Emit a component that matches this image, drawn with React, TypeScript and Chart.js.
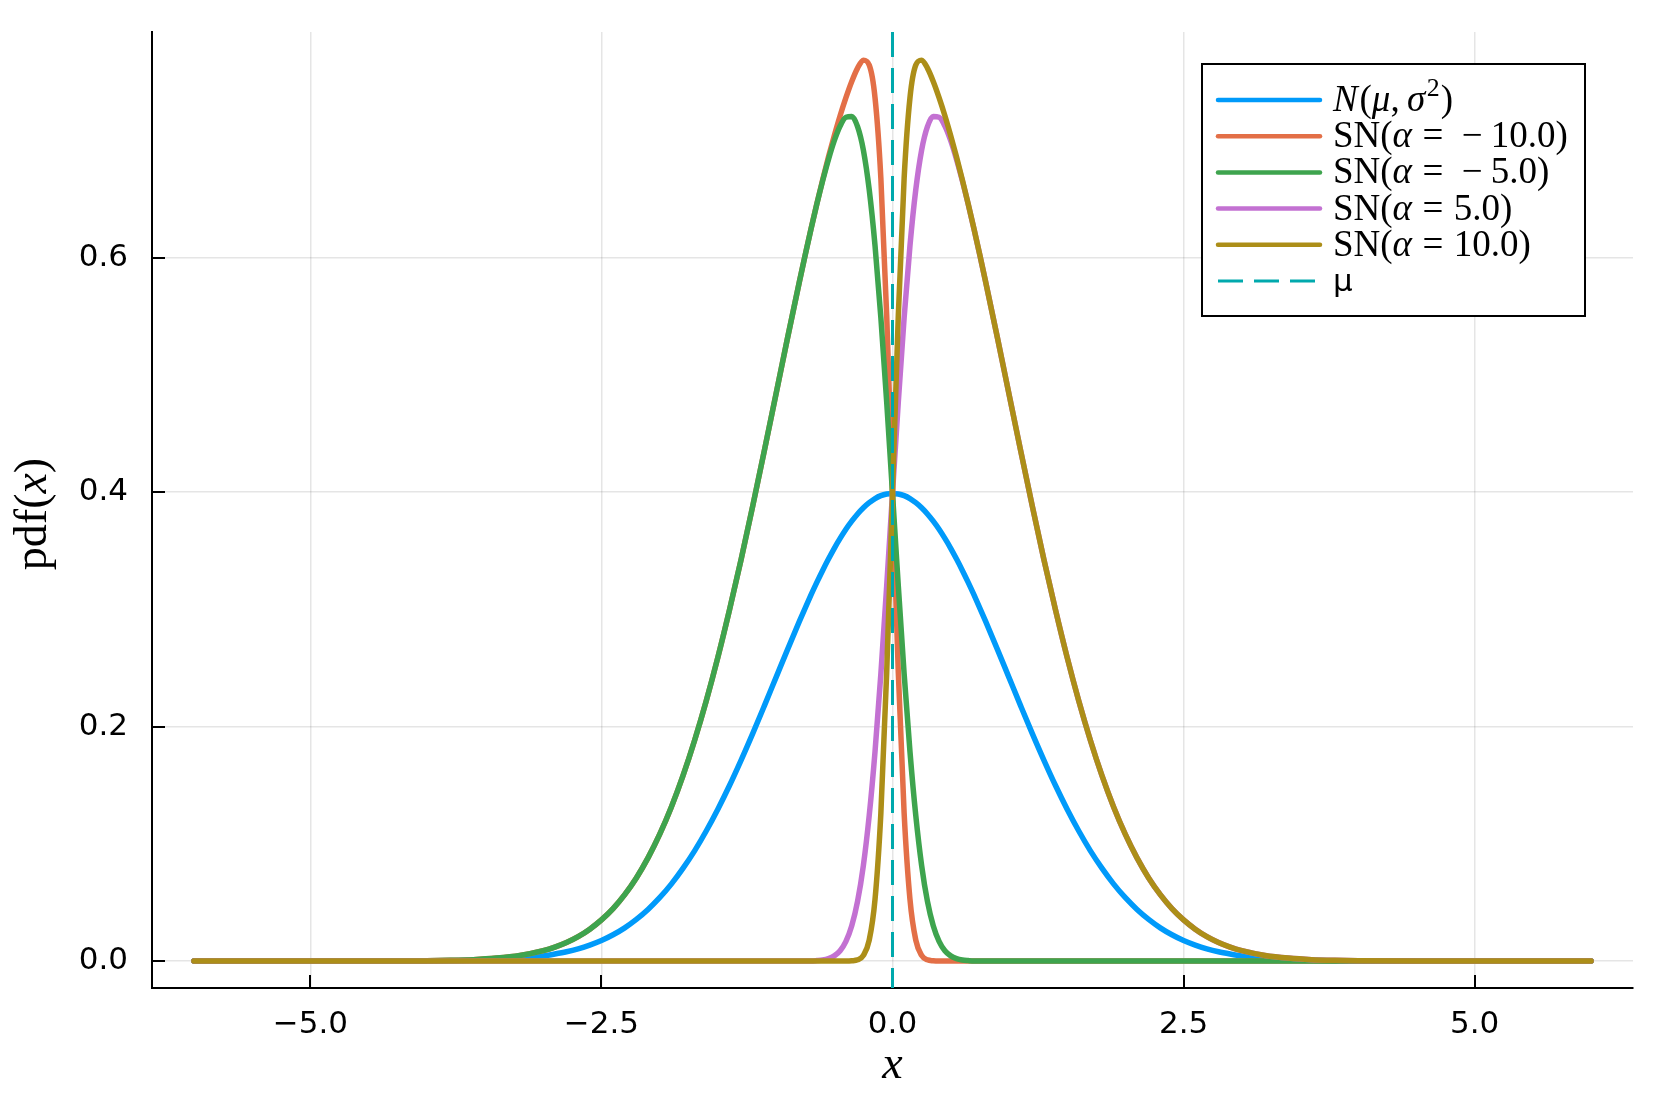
import React, { useEffect, useRef } from "react";
import { Chart, registerables } from "chart.js";

Chart.register(...registerables);

// ---------------- data ----------------
const xValues = [
  -6, -5, -4.5, -4, -3.8, -3.6, -3.4, -3.2,
  -3.0, -2.9, -2.8, -2.7, -2.6, -2.5, -2.4, -2.3, -2.2, -2.1, -2.0, -1.9, -1.8, -1.7, -1.6, -1.5, -1.4, -1.3, -1.2, -1.1, -1.0, -0.9,
  -0.8, -0.75, -0.7, -0.65, -0.6, -0.55, -0.5, -0.45, -0.4, -0.35, -0.3, -0.25, -0.2, -0.15, -0.1, -0.05,
  0,
  0.05, 0.1, 0.15, 0.2, 0.25, 0.3, 0.35, 0.4, 0.45, 0.5, 0.55, 0.6, 0.65, 0.7, 0.75, 0.8,
  0.9, 1.0, 1.1, 1.2, 1.3, 1.4, 1.5, 1.6, 1.7, 1.8, 1.9, 2.0, 2.1, 2.2, 2.3, 2.4, 2.5, 2.6, 2.7, 2.8, 2.9, 3.0,
  3.2, 3.4, 3.6, 3.8, 4, 4.5, 5, 6,
];

const normalPdf = [
  0, 0, 0.0000, 0.0001, 0.0003, 0.0006, 0.0012, 0.0024,
  0.0044, 0.0060, 0.0079, 0.0104, 0.0136, 0.0175, 0.0224, 0.0283, 0.0355, 0.0440, 0.0540, 0.0656, 0.0790, 0.0940, 0.1109, 0.1295, 0.1497, 0.1714, 0.1942, 0.2179, 0.2420, 0.2661,
  0.2897, 0.3011, 0.3123, 0.3230, 0.3332, 0.3429, 0.3521, 0.3605, 0.3683, 0.3752, 0.3814, 0.3867, 0.3910, 0.3945, 0.3970, 0.3984,
  0.3989,
  0.3984, 0.3970, 0.3945, 0.3910, 0.3867, 0.3814, 0.3752, 0.3683, 0.3605, 0.3521, 0.3429, 0.3332, 0.3230, 0.3123, 0.3011, 0.2897,
  0.2661, 0.2420, 0.2179, 0.1942, 0.1714, 0.1497, 0.1295, 0.1109, 0.0940, 0.0790, 0.0656, 0.0540, 0.0440, 0.0355, 0.0283, 0.0224, 0.0175, 0.0136, 0.0104, 0.0079, 0.0060, 0.0044,
  0.0024, 0.0012, 0.0006, 0.0003, 0.0001, 0.0000, 0, 0,
];

const snAlphaMinus10 = [
  0, 0, 0.0000, 0.0003, 0.0006, 0.0012, 0.0025, 0.0048,
  0.0089, 0.0119, 0.0158, 0.0208, 0.0272, 0.0351, 0.0448, 0.0567, 0.0709, 0.0880, 0.1080, 0.1312, 0.1579, 0.1881, 0.2218, 0.2590, 0.2995, 0.3427, 0.3884, 0.4357, 0.4839, 0.5322,
  0.5794, 0.6023, 0.6245, 0.6459, 0.6664, 0.6859, 0.7041, 0.7211, 0.7365, 0.7503, 0.7617, 0.7685, 0.7643, 0.7363, 0.6679, 0.5510,
  0.3989,
  0.2458, 0.1260, 0.0527, 0.0178, 0.0048, 0.0010, 0.0002, 0, 0, 0, 0, 0, 0, 0, 0, 0,
  0, 0, 0, 0, 0, 0, 0, 0, 0, 0, 0, 0, 0, 0, 0, 0, 0, 0, 0, 0, 0, 0,
  0, 0, 0, 0, 0, 0, 0, 0,
];

const snAlphaMinus5 = [
  0, 0, 0.0000, 0.0003, 0.0006, 0.0012, 0.0025, 0.0048,
  0.0089, 0.0119, 0.0158, 0.0208, 0.0272, 0.0351, 0.0448, 0.0567, 0.0709, 0.0880, 0.1080, 0.1312, 0.1579, 0.1881, 0.2218, 0.2590, 0.2995, 0.3427, 0.3884, 0.4357, 0.4839, 0.5322,
  0.5794, 0.6022, 0.6244, 0.6456, 0.6655, 0.6838, 0.6998, 0.7123, 0.7198, 0.7204, 0.7118, 0.6917, 0.6580, 0.6102, 0.5490, 0.4771,
  0.3989,
  0.3198, 0.2449, 0.1788, 0.1241, 0.0817, 0.0510, 0.0301, 0.0168, 0.0088, 0.0044, 0.0021, 0.0009, 0.0004, 0.0001, 0.0001, 0,
  0, 0, 0, 0, 0, 0, 0, 0, 0, 0, 0, 0, 0, 0, 0, 0, 0, 0, 0, 0, 0, 0,
  0, 0, 0, 0, 0, 0, 0, 0,
];

const snAlpha5 = [
  0, 0, 0, 0, 0, 0, 0, 0,
  0, 0, 0, 0, 0, 0, 0, 0, 0, 0, 0, 0, 0, 0, 0, 0, 0, 0, 0, 0, 0, 0,
  0, 0.0001, 0.0001, 0.0004, 0.0009, 0.0021, 0.0044, 0.0088, 0.0168, 0.0301, 0.0510, 0.0817, 0.1241, 0.1788, 0.2449, 0.3198,
  0.3989,
  0.4771, 0.5490, 0.6102, 0.6580, 0.6917, 0.7118, 0.7204, 0.7198, 0.7123, 0.6998, 0.6838, 0.6655, 0.6456, 0.6244, 0.6022, 0.5794,
  0.5322, 0.4839, 0.4357, 0.3884, 0.3427, 0.2995, 0.2590, 0.2218, 0.1881, 0.1579, 0.1312, 0.1080, 0.0880, 0.0709, 0.0567, 0.0448, 0.0351, 0.0272, 0.0208, 0.0158, 0.0119, 0.0089,
  0.0048, 0.0025, 0.0012, 0.0006, 0.0003, 0.0000, 0, 0,
];

const snAlpha10 = [
  0, 0, 0, 0, 0, 0, 0, 0,
  0, 0, 0, 0, 0, 0, 0, 0, 0, 0, 0, 0, 0, 0, 0, 0, 0, 0, 0, 0, 0, 0,
  0, 0, 0, 0, 0, 0, 0, 0, 0, 0.0002, 0.0010, 0.0048, 0.0178, 0.0527, 0.1260, 0.2458,
  0.3989,
  0.5510, 0.6679, 0.7363, 0.7643, 0.7685, 0.7617, 0.7503, 0.7365, 0.7211, 0.7041, 0.6859, 0.6664, 0.6459, 0.6245, 0.6023, 0.5794,
  0.5322, 0.4839, 0.4357, 0.3884, 0.3427, 0.2995, 0.2590, 0.2218, 0.1881, 0.1579, 0.1312, 0.1080, 0.0880, 0.0709, 0.0567, 0.0448, 0.0351, 0.0272, 0.0208, 0.0158, 0.0119, 0.0089,
  0.0048, 0.0025, 0.0012, 0.0006, 0.0003, 0.0000, 0, 0,
];

const muValue = 0;
const xTickValues = [-5, -2.5, 0, 2.5, 5];
const yTickValues = [0, 0.2, 0.4, 0.6];
const xLimits = [-6.36, 6.36];
const yLimits = [-0.023, 0.7925];

// ---------------- styles ----------------
const COLORS = {
  normal: "#009AFA",
  m10: "#E36F47",
  m5: "#3EA44E",
  p5: "#C371D2",
  p10: "#AC8E18",
  mu: "#00A9AD",
};
const SERIF = '"Liberation Serif", "DejaVu Serif", serif';
const SANS = '"DejaVu Sans", sans-serif';

type Run = { t: string; italic?: boolean; sup?: boolean; gap?: number };

function drawRuns(ctx: CanvasRenderingContext2D, x: number, y: number, runs: Run[], size: number) {
  let cx = x;
  ctx.textAlign = "left";
  ctx.textBaseline = "alphabetic";
  for (const r of runs) {
    cx += (r.gap || 0) * size;
    const fs = r.sup ? size * 0.7 : size;
    ctx.font = `${r.italic ? "italic " : ""}${fs}px ${SERIF}`;
    ctx.fillText(r.t, cx, r.sup ? y - size * 0.4 : y);
    cx += ctx.measureText(r.t).width;
  }
  return cx - x;
}

function measureRuns(ctx: CanvasRenderingContext2D, runs: Run[], size: number) {
  let w = 0;
  for (const r of runs) {
    w += (r.gap || 0) * size;
    const fs = r.sup ? size * 0.7 : size;
    ctx.font = `${r.italic ? "italic " : ""}${fs}px ${SERIF}`;
    w += ctx.measureText(r.t).width;
  }
  return w;
}

const snRuns = (value: string, negative: boolean): Run[] => {
  const runs: Run[] = [{ t: "SN(" }, { t: "α", italic: true }, { t: "=", gap: 0.28 }];
  if (negative) {
    runs.push({ t: "−", gap: 0.5 });
    runs.push({ t: value + ")", gap: 0.22 });
  } else {
    runs.push({ t: value + ")", gap: 0.28 });
  }
  return runs;
};

const legendItems: { color: string; dashed?: boolean; runs?: Run[]; plain?: string }[] = [
  {
    color: COLORS.normal,
    runs: [
      { t: "N", italic: true },
      { t: "(", gap: 0.05 },
      { t: "μ", italic: true },
      { t: "," },
      { t: "σ", italic: true, gap: 0.2 },
      { t: "2", sup: true, gap: 0.04 },
      { t: ")", gap: 0.03 },
    ],
  },
  { color: COLORS.m10, runs: snRuns("10.0", true) },
  { color: COLORS.m5, runs: snRuns("5.0", true) },
  { color: COLORS.p5, runs: snRuns("5.0", false) },
  { color: COLORS.p10, runs: snRuns("10.0", false) },
  { color: COLORS.mu, dashed: true, plain: "μ" },
];

const overlayPlugin = {
  id: "overlay",
  beforeDatasetsDraw(chart: any) {
    const { ctx, chartArea, scales } = chart;
    ctx.save();
    ctx.strokeStyle = "#000";
    ctx.lineWidth = 2;
    const tickLen = 13;
    for (const v of xTickValues) {
      const px = Math.round(scales.x.getPixelForValue(v));
      ctx.beginPath();
      ctx.moveTo(px, chartArea.bottom);
      ctx.lineTo(px, chartArea.bottom - tickLen);
      ctx.stroke();
    }
    for (const v of yTickValues) {
      const py = Math.round(scales.y.getPixelForValue(v));
      ctx.beginPath();
      ctx.moveTo(chartArea.left, py);
      ctx.lineTo(chartArea.left + tickLen, py);
      ctx.stroke();
    }
    ctx.restore();
  },
  afterDraw(chart: any) {
    const { ctx, chartArea } = chart;
    ctx.save();
    ctx.fillStyle = "#000";

    // x axis title
    ctx.font = `italic 46px ${SERIF}`;
    ctx.textAlign = "center";
    ctx.textBaseline = "alphabetic";
    ctx.fillText("x", (chartArea.left + chartArea.right) / 2, 1078);

    // y axis title (rotated)
    const yRuns: Run[] = [{ t: "pdf(" }, { t: "x", italic: true }, { t: ")" }];
    const ySize = 46;
    const yw = measureRuns(ctx, yRuns, ySize);
    ctx.save();
    ctx.translate(46, 514);
    ctx.rotate(-Math.PI / 2);
    drawRuns(ctx, -yw / 2, 0, yRuns, ySize);
    ctx.restore();

    // legend
    const box = { x: 1202, y: 64, w: 383, h: 252 };
    ctx.fillStyle = "#fff";
    ctx.fillRect(box.x, box.y, box.w, box.h);
    ctx.strokeStyle = "#000";
    ctx.lineWidth = 2;
    ctx.strokeRect(box.x, box.y, box.w, box.h);

    const rowY0 = 100;
    const rowStep = 36.2;
    const lineX0 = 1218;
    const lineX1 = 1320;
    const textX = 1333;
    const fs = 37;
    legendItems.forEach((it, i) => {
      const cy = rowY0 + i * rowStep;
      ctx.save();
      ctx.strokeStyle = it.color;
      ctx.lineCap = it.dashed ? "butt" : "round";
      ctx.lineWidth = it.dashed ? 3 : 4.5;
      if (it.dashed) ctx.setLineDash([25, 11]);
      ctx.beginPath();
      ctx.moveTo(lineX0, cy);
      ctx.lineTo(lineX1, cy);
      ctx.stroke();
      ctx.restore();
      ctx.fillStyle = "#000";
      if (it.runs) {
        drawRuns(ctx, textX, cy + 11, it.runs, fs);
      } else if (it.plain) {
        ctx.font = `31px ${SANS}`;
        ctx.textAlign = "left";
        ctx.textBaseline = "alphabetic";
        ctx.fillText(it.plain, textX, cy + 10);
      }
    });
    ctx.restore();
  },
};

const mkSeries = (ys: number[]) => xValues.map((x, i) => ({ x, y: ys[i] }));

export default function App() {
  const canvasRef = useRef<HTMLCanvasElement | null>(null);

  useEffect(() => {
    document.body.style.margin = "0";
    const canvas = canvasRef.current;
    if (!canvas) return;
    const lineBase = {
      pointRadius: 0,
      borderWidth: 5.5,
      cubicInterpolationMode: "monotone" as const,
      borderJoinStyle: "round" as const,
      borderCapStyle: "round" as const,
      fill: false,
    };
    const chart = new Chart(canvas, {
      type: "line",
      data: {
        datasets: [
          { ...lineBase, label: "N(μ, σ²)", data: mkSeries(normalPdf), borderColor: COLORS.normal, order: 5 },
          { ...lineBase, label: "SN(α = −10.0)", data: mkSeries(snAlphaMinus10), borderColor: COLORS.m10, order: 4 },
          { ...lineBase, label: "SN(α = −5.0)", data: mkSeries(snAlphaMinus5), borderColor: COLORS.m5, order: 3 },
          { ...lineBase, label: "SN(α = 5.0)", data: mkSeries(snAlpha5), borderColor: COLORS.p5, order: 2 },
          { ...lineBase, label: "SN(α = 10.0)", data: mkSeries(snAlpha10), borderColor: COLORS.p10, order: 1 },
          {
            label: "μ",
            data: [
              { x: muValue, y: yLimits[1] },
              { x: muValue, y: yLimits[0] },
            ],
            borderColor: COLORS.mu,
            borderWidth: 3,
            borderDash: [25, 11],
            pointRadius: 0,
            fill: false,
            order: 0,
          } as any,
        ],
      },
      options: {
        animation: false,
        responsive: false,
        devicePixelRatio: 1,
        layout: { padding: { top: 32, right: 34, left: 0, bottom: 0 } },
        plugins: {
          legend: { display: false },
          tooltip: { enabled: false },
        },
        scales: {
          x: {
            type: "linear",
            min: xLimits[0],
            max: xLimits[1],
            afterBuildTicks: (s: any) => {
              s.ticks = xTickValues.map((v) => ({ value: v }));
            },
            afterFit: (s: any) => {
              s.height = 123;
              s.paddingLeft = 0;
              s.paddingRight = 0;
              s.paddingTop = 0;
              s.paddingBottom = 0;
            },
            ticks: {
              font: { family: SANS, size: 31 },
              color: "#000",
              padding: 18,
              maxRotation: 0,
              autoSkip: false,
              callback: (v: any) => Number(v).toFixed(1).replace("-", "−"),
            },
            grid: { color: "rgba(0,0,0,0.1)", lineWidth: 1.5, drawTicks: false },
            border: { display: true, color: "#000", width: 2 },
          },
          y: {
            type: "linear",
            min: yLimits[0],
            max: yLimits[1],
            afterBuildTicks: (s: any) => {
              s.ticks = yTickValues.map((v) => ({ value: v }));
            },
            afterFit: (s: any) => {
              s.width = 152;
              s.paddingLeft = 0;
              s.paddingRight = 0;
              s.paddingTop = 0;
              s.paddingBottom = 0;
            },
            ticks: {
              font: { family: SANS, size: 31 },
              color: "#000",
              padding: 24,
              autoSkip: false,
              callback: (v: any) => Number(v).toFixed(1),
            },
            grid: { color: "rgba(0,0,0,0.1)", lineWidth: 1.5, drawTicks: false },
            border: { display: true, color: "#000", width: 2 },
          },
        },
      },
      plugins: [overlayPlugin],
    });
    return () => chart.destroy();
  }, []);

  return (
    <div style={{ position: "absolute", left: 0, top: 0, width: 1667, height: 1111, background: "#fff" }}>
      <canvas ref={canvasRef} width={1667} height={1111} style={{ display: "block" }} />
    </div>
  );
}
